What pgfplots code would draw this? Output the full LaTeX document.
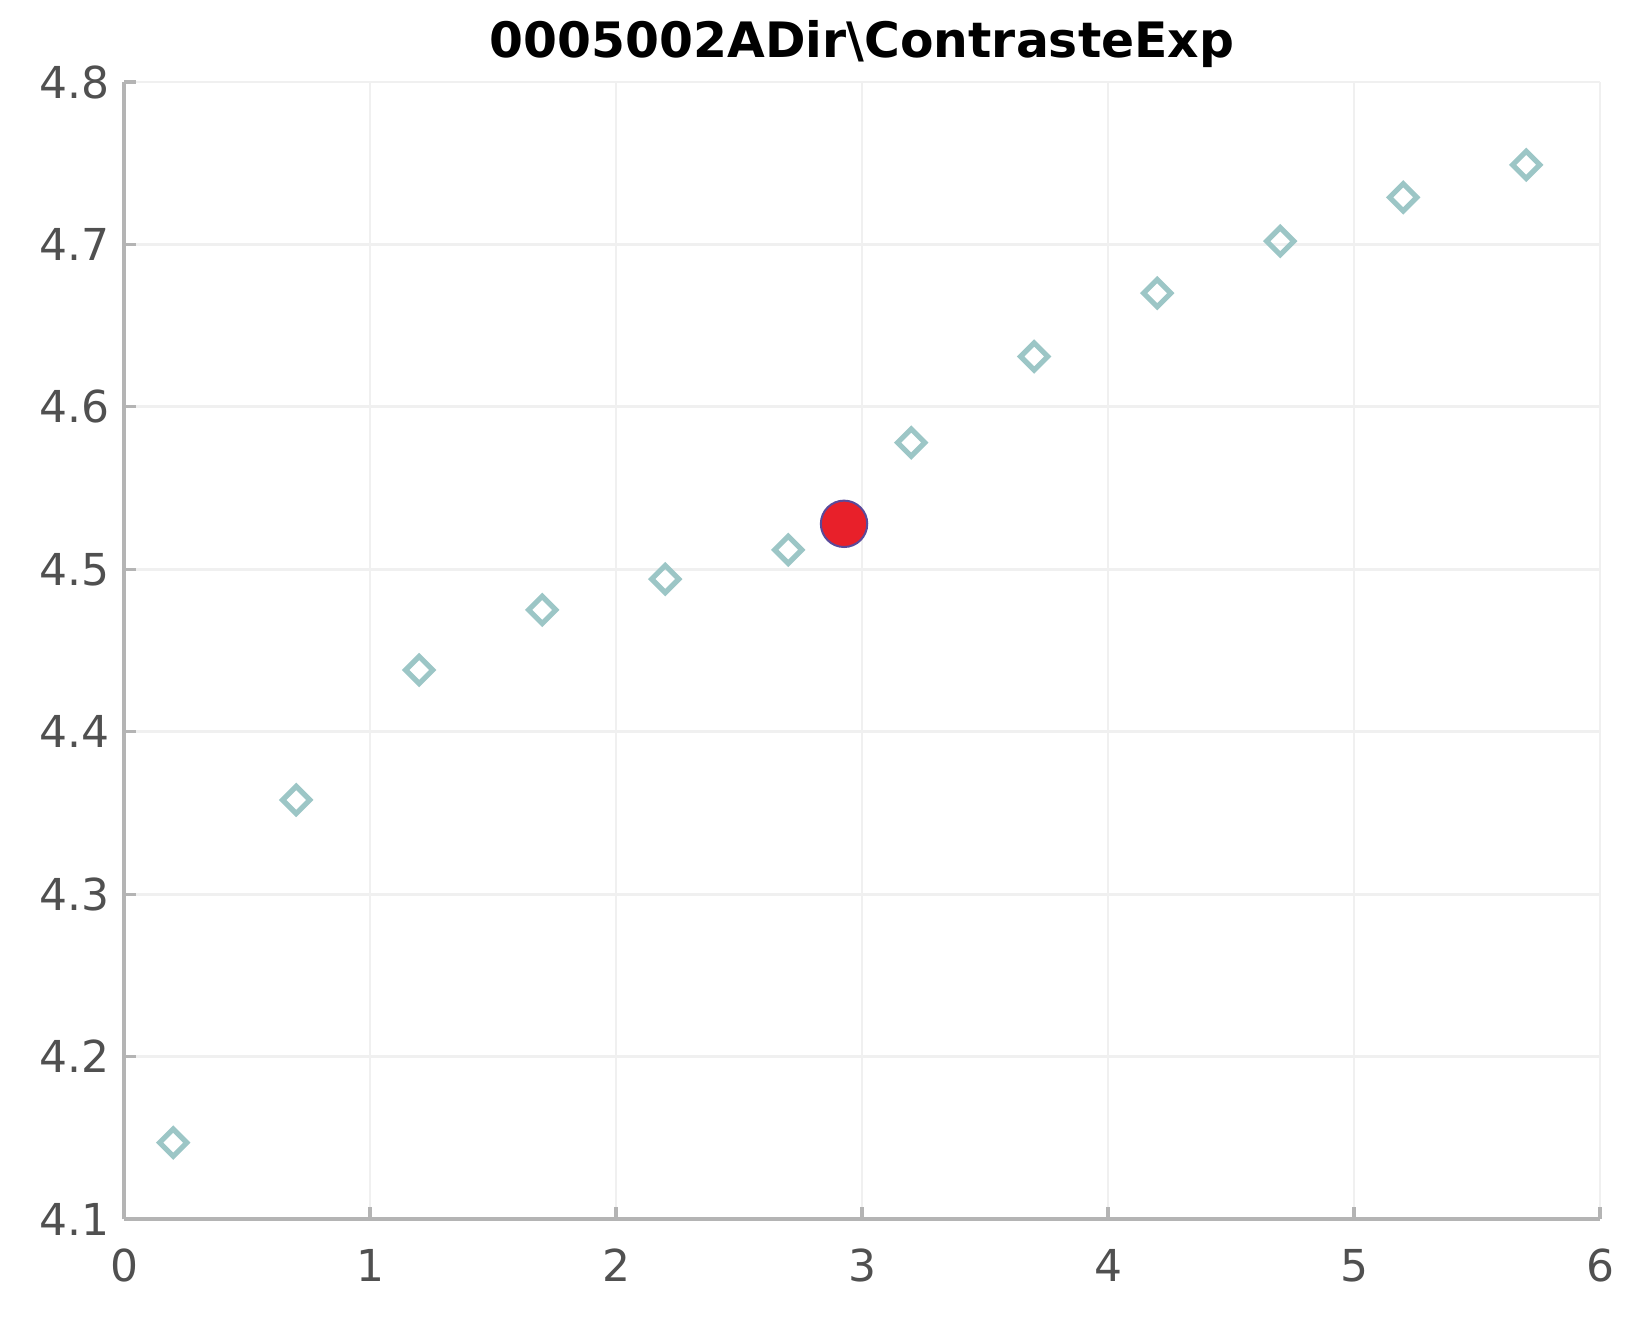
\documentclass[border=0pt]{standalone}
\usepackage{pgfplots}
\pgfplotsset{compat=1.18}
\usepackage{fontspec}
\setmainfont{DejaVu Sans}
\definecolor{axgray}{HTML}{B4B4B4}
\definecolor{gridgray}{HTML}{F0F0F0}
\definecolor{ticktext}{HTML}{505050}
\definecolor{teal}{HTML}{9CC6C6}
\definecolor{dotred}{HTML}{E8202A}
\definecolor{dotedge}{HTML}{5A4A9A}
\begin{document}
\begin{tikzpicture}
\begin{axis}[
  scale only axis,
  width=369pt, height=284.25pt,
  xmin=0, xmax=6, ymin=4.1, ymax=4.8,
  xtick={0,1,...,6}, ytick={4.1,4.2,...,4.8},
  yticklabel style={/pgf/number format/fixed,/pgf/number format/precision=1},
  /pgf/number format/assume math mode=true,
  axis x line*=bottom, axis y line*=left,
  axis line style={axgray, line width=1pt, -},
  tick style={axgray, line width=0.8pt},
  major tick length=3pt,
  tick align=inside,
  grid=major,
  major grid style={gridgray, line width=0.7pt},
  ticklabel style={font=\fontsize{11}{13}\selectfont, text=ticktext},
  xticklabel style={yshift=-4pt},
  title={0005002ADir\textbackslash ContrasteExp},
  title style={font=\fontsize{12.2}{14}\selectfont\bfseries, yshift=-6pt},
  clip=false,
]
\addplot[only marks, mark=square, mark size=2.4pt, mark options={rotate=45, draw=teal, line width=1.3pt, fill=white}]
coordinates {
(0.2,4.147) (0.7,4.358) (1.2,4.438) (1.7,4.475) (2.2,4.494) (2.7,4.512)
(3.2,4.578) (3.7,4.631) (4.2,4.670) (4.7,4.702) (5.2,4.729) (5.7,4.749)
};
\addplot[only marks, mark=*, mark size=5.8pt, mark options={fill=dotred, draw=dotedge, line width=0.5pt}]
coordinates {(2.927,4.528)};
\end{axis}
\path ([shift={(-31pt,-24.75pt)}]current axis.south west) rectangle ([shift={(12.5pt,20.5pt)}]current axis.north east);
\end{tikzpicture}
\end{document}
